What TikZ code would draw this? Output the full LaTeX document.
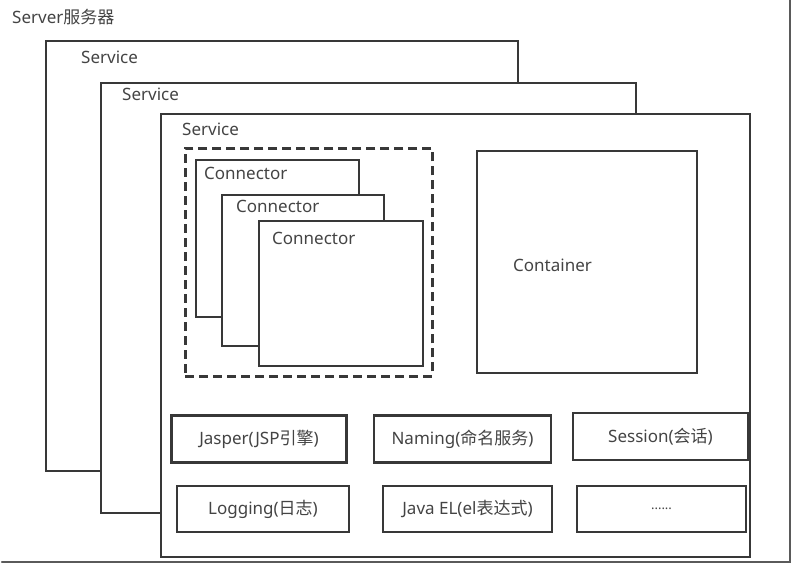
\documentclass[tikz,border=0pt]{standalone}
\usepackage{fontspec}
\setmainfont{Noto Sans}
\newfontfamily\cjk{Noto Sans CJK SC}
\usepackage{tikz}
\usetikzlibrary{positioning}
\definecolor{linec}{HTML}{383838}
\definecolor{textc}{HTML}{444444}
\definecolor{framec}{HTML}{5A5A5A}

\begin{document}
\begin{tikzpicture}[x=1pt,y=-1pt,line cap=round,
  box/.style={draw=linec,line width=2.3pt,fill=white,inner sep=0pt,anchor=north west},
  item/.style={draw=linec,line width=2.3pt,fill=white,inner sep=0pt,text=textc,
    font=\fontsize{17}{20}\selectfont},
  txt/.style={text=textc,inner sep=0pt,font=\fontsize{17}{20}\selectfont}]
\useasboundingbox (0,0) rectangle (793,566);
\fill[white] (0,0) rectangle (793,566);
\draw[framec,line width=2.5pt] (2,562) -- (790,562) -- (790,0);
\node[txt,anchor=west] (server) at (12,17) {Server{\cjk 服务器}};
\node[box,minimum width=472pt,minimum height=430pt] (svc1) at (45,40) {};
\node[txt,anchor=west] (svc1lbl) at (81,57) {Service};
\node[box,minimum width=535pt,minimum height=430pt] (svc2) at (100,82) {};
\node[txt,anchor=west] (svc2lbl) at (122,94) {Service};
\node[box,minimum width=589pt,minimum height=443pt] (svc3) at (160,113) {};
\node[txt,anchor=west] (svc3lbl) at (182,129) {Service};
\node[box,fill=none,dash pattern=on 9pt off 5pt,line width=2.6pt,line cap=butt,
  minimum width=247pt,minimum height=228pt] (conngrp) at (184,147) {};
\node[box,minimum width=163pt,minimum height=157pt] (conn1) at (195,159) {};
\node[txt,anchor=west] (conn1lbl) at (204,173) {Connector};
\node[box,minimum width=162pt,minimum height=151pt] (conn2) at (221,194) {};
\node[txt,anchor=west] (conn2lbl) at (236,206) {Connector};
\node[box,minimum width=164pt,minimum height=145pt] (conn3) at (258,220) {};
\node[txt,anchor=west] (conn3lbl) at (272,238) {Connector};
\node[box,minimum width=220pt,minimum height=222pt] (container) at (476,150) {};
\node[txt,anchor=west] (containerlbl) at (513,265) {Container};
\node[item,minimum width=175pt,minimum height=47pt] (jasper) at (259,439) {Jasper(JSP{\cjk 引擎})};
\node[item,minimum width=177pt,minimum height=47pt] (naming) at (462.5,439) {Naming({\cjk 命名服务})};
\node[item,minimum width=175pt,minimum height=47pt] (session) at (660.5,436.5) {Session({\cjk 会话})};
\node[item,minimum width=172pt,minimum height=46pt] (logging) at (263,509) {Logging({\cjk 日志})};
\node[item,minimum width=169pt,minimum height=46pt] (javael) at (467.5,509) {Java EL(el{\cjk 表达式})};
\node[item,minimum width=169pt,minimum height=46pt] (more) at (661.5,509) {\fontsize{13}{15}\selectfont ......};
\end{tikzpicture}
\end{document}
